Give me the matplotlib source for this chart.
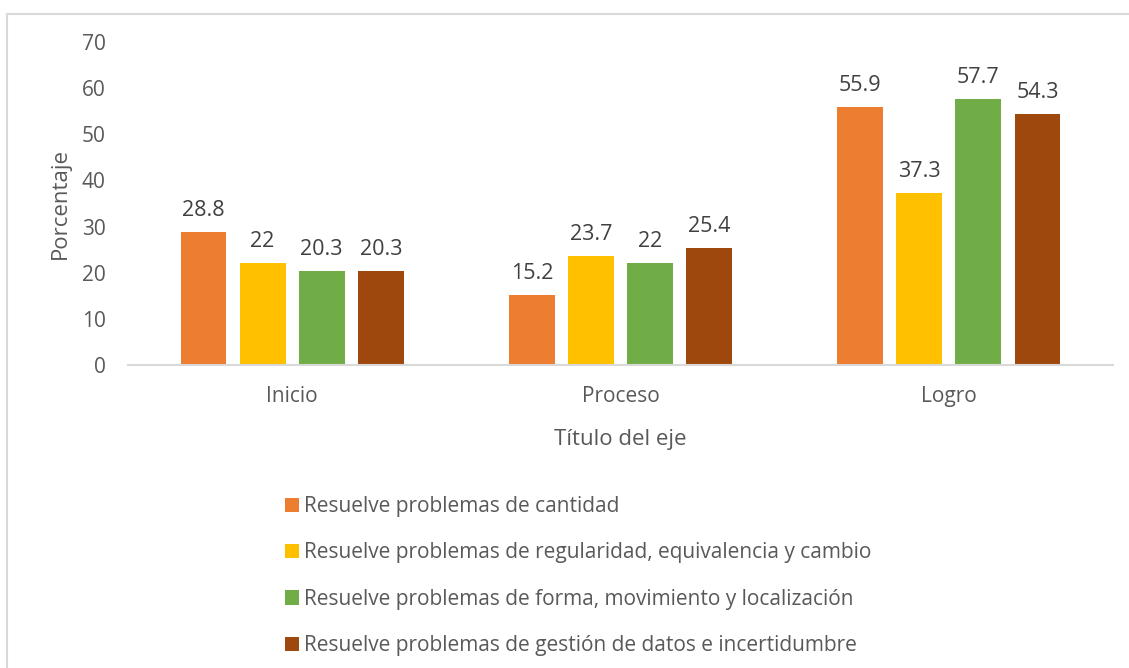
import matplotlib
matplotlib.use("Agg")
import matplotlib.pyplot as plt
import numpy as np
from matplotlib.patches import Patch, Rectangle

categories = ["Inicio", "Proceso", "Logro"]
series_names = [
    "Resuelve problemas de cantidad",
    "Resuelve problemas de regularidad, equivalencia y cambio",
    "Resuelve problemas de forma, movimiento y localización",
    "Resuelve problemas de gestión de datos e incertidumbre",
]
cantidad = [28.8, 15.2, 55.9]
regularidad = [22, 23.7, 37.3]
forma = [20.3, 22, 57.7]
gestion = [20.3, 25.4, 54.3]
labels_text = [
    ["28.8", "15.2", "55.9"],
    ["22", "23.7", "37.3"],
    ["20.3", "22", "57.7"],
    ["20.3", "25.4", "54.3"],
]
colors = ["#ED7D31", "#FFC000", "#70AD47", "#9E480E"]
yticks = [0, 10, 20, 30, 40, 50, 60, 70]

plt.rcParams['font.family'] = ['Open Sans', 'DejaVu Sans']
txt = "#595959"

fig = plt.figure(figsize=(11.29, 6.68), dpi=100)
ax = fig.add_axes([128/1129, 1-365/668, (1113-128)/1129, (365-42)/668])

series = [cantidad, regularidad, forma, gestion]
x = np.arange(len(categories))
slot = 0.18
bw = 0.14
for i, (vals, c) in enumerate(zip(series, colors)):
    pos = x + (i - 1.5) * slot
    bars = ax.bar(pos, vals, width=bw, color=c, label=series_names[i], zorder=2)
    ax.bar_label(bars, labels=labels_text[i], padding=8, fontsize=15.5, color="#404040")

ax.set_xlim(-0.5, 2.5)
ax.set_ylim(0, 70)
ax.set_yticks(yticks)
ax.set_xticks(x)
ax.set_xticklabels(categories)
for s in ["top", "right", "left"]:
    ax.spines[s].set_visible(False)
ax.spines["bottom"].set_color("#D9D9D9")
ax.spines["bottom"].set_linewidth(1.5)
ax.tick_params(axis="both", length=0, labelsize=15, labelcolor=txt)
ax.tick_params(axis="y", pad=16)
ax.tick_params(axis="x", pad=15)
ax.set_ylabel("Porcentaje", fontsize=16, color=txt, labelpad=8)
ax.set_xlabel("Título del eje", fontsize=16, color=txt, labelpad=16)

handles = [Patch(facecolor=c, edgecolor="none") for c in colors]
fig.legend(handles, series_names, loc="upper left", bbox_to_anchor=(285/1129, 1-496/668),
           frameon=False, fontsize=15, labelcolor=txt, handlelength=0.67, handleheight=0.67,
           handletextpad=0.25, labelspacing=1.22, borderaxespad=0, borderpad=0)

fig.patches.append(Rectangle((7/1129, -0.05), 1.1, 1-14/668+0.05, transform=fig.transFigure,
                             fill=False, edgecolor="#D9D9D9", linewidth=1.5))

fig.savefig("out.png", dpi=100)
